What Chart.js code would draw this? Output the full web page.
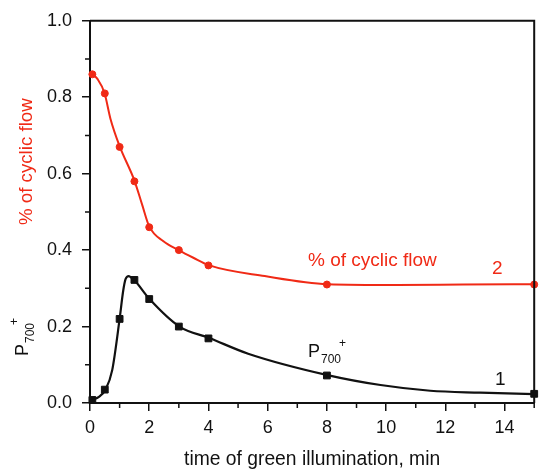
<!DOCTYPE html>
<html>
<head>
<meta charset="utf-8">
<script src="https://cdn.jsdelivr.net/npm/chart.js@4.4.0/dist/chart.umd.min.js"></script>
<style>
  html, body { margin: 0; padding: 0; background: #fff; }
  #wrap { width: 540px; height: 469px; }
</style>
</head>
<body>
<div id="wrap"><canvas id="chart"></canvas></div>
<script>
const timeMin = [0.08, 0.5, 1, 1.5, 2, 3, 4, 8, 15];
const cyclicFlow = [0.86, 0.81, 0.67, 0.58, 0.46, 0.40, 0.36, 0.31, 0.31];   // curva 2
const p700 = [0.008, 0.035, 0.22, 0.322, 0.272, 0.20, 0.169, 0.072, 0.024];  // curva 1

// curvas de ajuste, leidas sobre la linea de la figura
const cyclicFitX = [0.08, 0.25, 0.49, 0.69, 1.0, 1.5, 1.76, 2.0, 2.48, 2.99, 3.49, 4.03, 5.9, 8.02, 10.37, 12.6, 15];
const cyclicFitY = [0.861, 0.848, 0.811, 0.744, 0.672, 0.582, 0.519, 0.462, 0.423, 0.40, 0.38, 0.36, 0.332, 0.311, 0.309, 0.31, 0.311];
const p700FitX = [0.08, 0.30, 0.53, 0.75, 1.0, 1.12, 1.20, 1.31, 1.42, 1.50, 2.01, 3.02, 4.03, 5.34, 8.02, 9.81, 11.49, 13.17, 15];
const p700FitY = [0.008, 0.016, 0.036, 0.086, 0.22, 0.293, 0.324, 0.332, 0.326, 0.321, 0.272, 0.20, 0.17, 0.129, 0.073, 0.047, 0.032, 0.027, 0.023];

const xTicks = [0, 2, 4, 6, 8, 10, 12, 14];
const yTicks = [0.0, 0.2, 0.4, 0.6, 0.8, 1.0];

const RED = 'rgb(240, 42, 22)';
const FONT = '"Liberation Sans", Arial, sans-serif';

function toPoints(xs, ys) {
    return xs.map((x, i) => ({ x: x, y: ys[i] }));
}

// ticks menores, marco y textos extra
const extrasPlugin = {
    id: 'extras',
    afterDraw(chart) {
        const ctx = chart.ctx;
        const a = chart.chartArea;
        const xs = chart.scales.x;
        const ys = chart.scales.y;
        ctx.save();
        ctx.strokeStyle = '#111';
        ctx.lineWidth = 2;
        // marco superior y derecho
        ctx.beginPath();
        ctx.moveTo(a.left, a.top);
        ctx.lineTo(a.right, a.top);
        ctx.lineTo(a.right, a.bottom);
        ctx.stroke();
        // ticks menores
        ctx.lineWidth = 1.5;
        ctx.beginPath();
        for (let v = 1; v <= 15; v += 2) {
            const px = xs.getPixelForValue(v);
            ctx.moveTo(px, a.bottom);
            ctx.lineTo(px, a.bottom + 5);
        }
        for (let v = 0.1; v < 1; v += 0.2) {
            const py = ys.getPixelForValue(v);
            ctx.moveTo(a.left, py);
            ctx.lineTo(a.left - 5, py);
        }
        ctx.stroke();

        // titulo eje x
        ctx.fillStyle = '#111';
        ctx.font = '19.3px ' + FONT;
        ctx.textAlign = 'center';
        ctx.textBaseline = 'alphabetic';
        ctx.fillText('time of green illumination, min', (a.left + a.right) / 2, 465);

        // titulos eje y (rotados)
        ctx.save();
        ctx.translate(32, 0);
        ctx.rotate(-Math.PI / 2);
        ctx.textAlign = 'left';
        ctx.fillStyle = RED;
        ctx.font = '18.7px ' + FONT;
        ctx.fillText('% of cyclic flow', -225, 0);
        ctx.restore();

        ctx.save();
        ctx.translate(28, 0);
        ctx.rotate(-Math.PI / 2);
        drawP700(ctx, -356, 0, '#111');
        ctx.restore();

        // etiquetas dentro del grafico
        ctx.textAlign = 'left';
        ctx.fillStyle = RED;
        ctx.font = '19px ' + FONT;
        ctx.fillText('% of cyclic flow', 308, 266);
        ctx.fillText('2', 492, 274);
        ctx.fillStyle = '#111';
        ctx.fillText('1', 495, 385);
        drawP700(ctx, 308, 357, '#111');
        ctx.restore();
    }
};

function drawP700(ctx, x, y, color) {
    ctx.fillStyle = color;
    ctx.textAlign = 'left';
    ctx.font = '18px ' + FONT;
    ctx.fillText('P', x, y);
    const w = ctx.measureText('P').width;
    ctx.font = '12px ' + FONT;
    ctx.fillText('700', x + w + 1, y + 6);
    const w2 = ctx.measureText('700').width;
    ctx.fillText('+', x + w + w2 - 1, y - 10);
}

const ctx = document.getElementById('chart').getContext('2d');
new Chart(ctx, {
    type: 'scatter',
    data: {
        datasets: [
            {
                label: 'ajuste cyclic',
                data: toPoints(cyclicFitX, cyclicFitY),
                showLine: true,
                borderColor: RED,
                borderWidth: 2,
                pointRadius: 0,
                cubicInterpolationMode: 'monotone'
            },
            {
                label: 'ajuste P700',
                data: toPoints(p700FitX, p700FitY),
                showLine: true,
                borderColor: '#111',
                borderWidth: 2.2,
                pointRadius: 0,
                cubicInterpolationMode: 'monotone'
            },
            {
                label: '% of cyclic flow',
                data: toPoints(timeMin, cyclicFlow),
                showLine: false,
                borderColor: RED,
                backgroundColor: RED,
                pointStyle: 'circle',
                pointRadius: 3.5
            },
            {
                label: 'P700+',
                data: toPoints(timeMin, p700),
                showLine: false,
                borderColor: '#111',
                backgroundColor: '#111',
                pointStyle: 'rect',
                pointRadius: 4.8
            }
        ]
    },
    options: {
        responsive: true,
        maintainAspectRatio: false,
        animation: false,
        clip: false,
        layout: { padding: { top: 18, right: 2, left: 0, bottom: 0 } },
        plugins: {
            legend: { display: false },
            tooltip: { enabled: false }
        },
        scales: {
            x: {
                type: 'linear',
                min: 0,
                max: 15,
                afterFit: function (scale) { scale.height = 66; },
                afterBuildTicks: function (scale) {
                    scale.ticks = xTicks.map(v => ({ value: v }));
                },
                border: { display: true, color: '#111', width: 2 },
                grid: { drawOnChartArea: false, drawTicks: true, tickLength: 8, color: '#111', lineWidth: 1.5 },
                ticks: {
                    color: '#111',
                    font: { family: FONT, size: 18 },
                    padding: 6,
                    maxRotation: 0,
                    callback: v => String(v)
                }
            },
            y: {
                type: 'linear',
                min: 0,
                max: 1,
                afterFit: function (scale) { scale.width = 90; },
                afterBuildTicks: function (scale) {
                    scale.ticks = yTicks.map(v => ({ value: v }));
                },
                border: { display: true, color: '#111', width: 2 },
                grid: { drawOnChartArea: false, drawTicks: true, tickLength: 8, color: '#111', lineWidth: 1.5 },
                ticks: {
                    color: '#111',
                    font: { family: FONT, size: 18 },
                    padding: 10,
                    callback: v => v.toFixed(1)
                }
            }
        }
    },
    plugins: [extrasPlugin]
});
</script>
</body>
</html>
